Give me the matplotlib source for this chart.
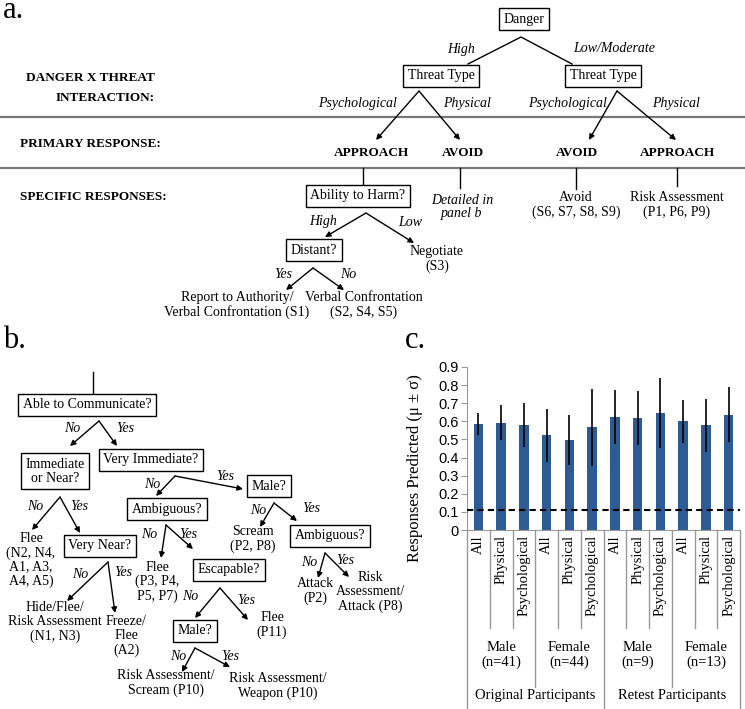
import numpy as np
import matplotlib
matplotlib.use('Agg')
import matplotlib.pyplot as plt

# panel c data
categories = ['All', 'Physical', 'Psychological'] * 4
means = [0.585, 0.592, 0.579, 0.522, 0.498, 0.566, 0.624, 0.618, 0.644, 0.600, 0.578, 0.637]
sds = [0.063, 0.097, 0.120, 0.145, 0.138, 0.215, 0.150, 0.150, 0.193, 0.118, 0.148, 0.153]
groups = ['Male\n(n=41)', 'Female\n(n=44)', 'Male\n(n=9)', 'Female\n(n=13)']
cohorts = ['Original Participants', 'Retest Participants']
chance = 0.11
yticks = [0, 0.1, 0.2, 0.3, 0.4, 0.5, 0.6, 0.7, 0.8, 0.9]

SERIF = 'Liberation Serif'
W, H = 745, 709
fig = plt.figure(figsize=(W / 100, H / 100), dpi=100)

# overlay axes in pixel coordinates for the two trees
ax = fig.add_axes([0, 0, 1, 1])
ax.set_xlim(0, W)
ax.set_ylim(H, 0)
ax.axis('off')

FS = 10


def box(x, y, s):
    ax.text(x, y, s, ha='center', va='center', fontsize=FS, family=SERIF,
            linespacing=1.1,
            bbox=dict(boxstyle='square,pad=0.35', fc='white', ec='black', lw=1))


def txt(x, y, s, ha='center', ital=False, bold=False, size=FS):
    ax.text(x, y, s, ha=ha, va='center', fontsize=size, family=SERIF,
            style='italic' if ital else 'normal',
            weight='bold' if bold else 'normal', linespacing=1.1)


def arrow(x0, y0, x1, y1):
    ax.annotate('', xy=(x1, y1), xytext=(x0, y0),
                arrowprops=dict(arrowstyle='-|>', color='black', lw=1,
                                mutation_scale=8, shrinkA=0, shrinkB=0))


def fork(apex, left, right, heads=True):
    if heads:
        arrow(*apex, *left)
        arrow(*apex, *right)
    else:
        ax.plot([left[0], apex[0], right[0]], [left[1], apex[1], right[1]], color='black', lw=1)


def vline(x, y0, y1):
    ax.plot([x, x], [y0, y1], color='black', lw=1)


# ---------------- panel a ----------------
ax.text(3, 18, 'a.', ha='left', va='baseline', fontsize=22, family=SERIF)

fork((521, 37), (468, 64), (572, 64), heads=False)
txt(461, 49, 'High', ital=True)
txt(614, 49, 'Low/Moderate', ital=True)
box(524, 19, 'Danger')
box(441, 76, 'Threat Type')
box(603, 76, 'Threat Type')
txt(155, 78, 'DANGER X THREAT', ha='right', bold=True, size=9.5)
txt(155, 98, 'INTERACTION:', ha='right', bold=True, size=9.5)

fork((419, 91), (376, 140), (460, 140))
txt(397, 103, 'Psychological', ha='right', ital=True)
txt(443, 103, 'Physical', ha='left', ital=True)
fork((617, 91), (589, 140), (676, 140))
txt(607, 103, 'Psychological', ha='right', ital=True)
txt(652, 103, 'Physical', ha='left', ital=True)

for yy in (117, 168):
    ax.plot([0, W], [yy, yy], color='#777777', lw=1.6)

txt(20, 144, 'PRIMARY RESPONSE:', ha='left', bold=True, size=9.5)
txt(372, 153, 'APPROACH', bold=True, size=9.5)
txt(463, 153, 'AVOID', bold=True, size=9.5)
txt(577, 153, 'AVOID', bold=True, size=9.5)
txt(678, 153, 'APPROACH', bold=True, size=9.5)

vline(363, 168, 184)
vline(460, 168, 188)
vline(576, 168, 189)
vline(677, 168, 186)

txt(20, 197, 'SPECIFIC RESPONSES:', ha='left', bold=True, size=9.5)
box(358, 196, 'Ability to Harm?')
txt(462, 207, 'Detailed in\npanel b', ital=True)
txt(576, 205, 'Avoid\n(S6, S7, S8, S9)')
txt(677, 205, 'Risk Assessment\n(P1, P6, P9)')

fork((366, 213), (325, 237), (414, 243))
txt(323, 222, 'High', ital=True)
txt(410, 222, 'Low', ital=True)
box(314, 250, 'Distant?')
txt(437, 259, 'Negotiate\n(S3)')
fork((313, 268), (286, 290), (344, 290))
txt(283, 275, 'Yes', ital=True)
txt(348, 275, 'No', ital=True)
txt(237, 305, 'Report to Authority/\nVerbal Confrontation (S1)')
txt(364, 305, 'Verbal Confrontation\n(S2, S4, S5)')

# ---------------- panel b ----------------
ax.text(3, 348, 'b.', ha='left', va='baseline', fontsize=22, family=SERIF)
vline(93, 372, 393)
box(87, 405, 'Able to Communicate?')
fork((99, 421), (70, 446), (117, 446))
txt(72, 428, 'No', ital=True)
txt(125, 428, 'Yes', ital=True)
box(55, 471, 'Immediate\nor Near?')
box(151, 460, 'Very Immediate?')

fork((175, 476), (156, 496), (243, 489))
txt(152, 484, 'No', ital=True)
txt(225, 476, 'Yes', ital=True)
box(269, 486, 'Male?')
box(167, 509, 'Ambiguous?')

fork((60, 497), (32, 530), (80, 533))
txt(35, 506, 'No', ital=True)
txt(79, 506, 'Yes', ital=True)

fork((274, 503), (260, 527), (297, 521))
txt(258, 510, 'No', ital=True)
txt(311, 509, 'Yes', ital=True)
txt(253, 539, 'Scream\n(P2, P8)')
box(330, 536, 'Ambiguous?')

fork((166, 525), (161, 558), (193, 549))
txt(149, 535, 'No', ital=True)
txt(188, 534, 'Yes', ital=True)
txt(31, 560, 'Flee\n(N2, N4,\nA1, A3,\nA4, A5)')
box(100, 546, 'Very Near?')
txt(157, 582, 'Flee\n(P3, P4,\nP5, P7)')
box(229, 570, 'Escapable?')

fork((108, 562), (67, 601), (115, 613))
txt(80, 574, 'No', ital=True)
txt(123, 573, 'Yes', ital=True)

fork((325, 553), (318, 578), (349, 577))
txt(309, 563, 'No', ital=True)
txt(345, 561, 'Yes', ital=True)
txt(315, 591, 'Attack\n(P2)')
txt(370, 592, 'Risk\nAssessment/\nAttack (P8)')

fork((220, 588), (195, 618), (248, 620))
txt(190, 597, 'No', ital=True)
txt(246, 600, 'Yes', ital=True)
txt(55, 622, 'Hide/Flee/\nRisk Assessment\n(N1, N3)')
txt(126, 636, 'Freeze/\nFlee\n(A2)')
txt(272, 625, 'Flee\n(P11)')
box(195, 631, 'Male?')

fork((195, 648), (182, 672), (230, 667))
txt(178, 656, 'No', ital=True)
txt(230, 656, 'Yes', ital=True)
txt(166, 683, 'Risk Assessment/\nScream (P10)')
txt(278, 686, 'Risk Assessment/\nWeapon (P10)')

# ---------------- panel c ----------------
ax.text(405, 348, 'c.', ha='left', va='baseline', fontsize=22, family=SERIF)

ax0, ax1 = 467, 740
ay0, ay1 = 530, 367
bx = fig.add_axes([ax0 / W, 1 - ay0 / H, (ax1 - ax0) / W, (ay0 - ay1) / H])
bx.patch.set_alpha(0)
x = np.arange(len(means))
bx.bar(x, means, width=0.42, color='#2d5b93', zorder=2)
bx.errorbar(x, means, yerr=sds, fmt='none', ecolor='black', elinewidth=1.2, capsize=0, zorder=3)
bx.axhline(chance, color='black', lw=1.5, ls=(0, (3, 2)), zorder=4)
bx.set_xlim(-0.5, len(means) - 0.5)
bx.set_ylim(0, 0.9)
bx.set_yticks(yticks)
bx.set_yticklabels(['0' if v == 0 else f'{v:.1f}' for v in yticks], family='Liberation Sans', fontsize=10.5)
bx.set_xticks([])
for s in ('top', 'right'):
    bx.spines[s].set_visible(False)
for s in ('left', 'bottom'):
    bx.spines[s].set_color('#999999')
bx.tick_params(axis='y', length=4, color='#999999', pad=2)
bx.set_ylabel('Responses Predicted (\u03bc \u00b1 \u03c3)', family=SERIF, fontsize=12)
bx.yaxis.set_label_coords(-0.16, 0.38)

hpx = ay0 - ay1


def fy(py):
    # pixel row to axes fraction of the bar axes
    return (ay0 - py) / hpx


tr = bx.get_xaxis_transform()
for i in range(len(means) + 1):
    xb = i - 0.5
    if i % 6 == 0:
        yend = H + 5
    elif i % 3 == 0:
        yend = 687
    else:
        yend = 628
    bx.plot([xb, xb], [0, fy(yend)], transform=tr, color='#999999', lw=1, clip_on=False)

for i, c in enumerate(categories):
    bx.text(i, fy(535), c, transform=tr, rotation=90, ha='center', va='top',
            family=SERIF, fontsize=10.5, clip_on=False)
for g, name in enumerate(groups):
    bx.text(3 * g + 1, fy(655), name, transform=tr, ha='center', va='center',
            family=SERIF, fontsize=10.5, linespacing=1.15, clip_on=False)
for k, name in enumerate(cohorts):
    bx.text(6 * k + 2.5, fy(695), name, transform=tr, ha='center', va='center',
            family=SERIF, fontsize=10.5, clip_on=False)

fig.savefig('out.png', dpi=100)
